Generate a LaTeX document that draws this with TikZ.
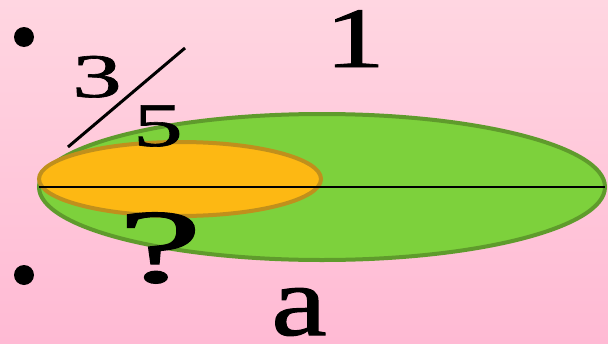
\documentclass[tikz,border=0pt]{standalone}
\usepackage{fontspec}
\setmainfont{Liberation Serif}
\newfontfamily\heavyserif[FakeBold=1]{Liberation Serif}
\usepackage{xcolor}
\usepackage{tikz}
\usetikzlibrary{shapes.geometric}
\definecolor{pinktop}{HTML}{FFD6E1}
\definecolor{pinkbottom}{HTML}{FFBAD4}
\definecolor{leafgreen}{HTML}{7DD13C}
\definecolor{leafedge}{HTML}{5F9B2C}
\definecolor{sunorange}{HTML}{FDB813}
\definecolor{sunedge}{HTML}{C0901C}

\begin{document}
\begin{tikzpicture}[
  x=1pt,y=-1pt,
  every node/.style={inner sep=0pt,outer sep=0pt},
  bignum/.style={anchor=base,text=black},
  bigoval/.style={ellipse,draw=leafedge,fill=leafgreen,line width=4pt},
  smalloval/.style={ellipse,draw=sunedge,fill=sunorange,line width=4pt},
  dot/.style={circle,fill=black,minimum size=20pt}
]
\useasboundingbox (0,0) rectangle (608,343);
\shade[top color=pinktop,bottom color=pinkbottom] (0,0) rectangle (608,343);

% bullets
\node[dot] (dotA) at (24,37) {};
\node[dot] (dotB) at (24,275) {};

% ovals
\node[bigoval,minimum width=566pt,minimum height=146pt] (whole) at (322,187) {};
\node[smalloval,minimum width=282pt,minimum height=74pt] (part) at (180,179) {};
\draw[line width=1.5pt] (whole.west) -- (whole.east);

% labels
\node[bignum,font=\heavyserif\fontsize{86}{86}\selectfont] (one) at (355,67) {\scalebox{1.4}[1]{1}};
\node[bignum,font=\heavyserif\fontsize{62}{62}\selectfont] (three) at (97,97) {\scalebox{1.6}[1]{3}};
\node[bignum,font=\heavyserif\fontsize{62}{62}\selectfont] (five) at (158,146) {\scalebox{1.6}[1]{5}};
\coordinate (slashlo) at (68,147);
\coordinate (slashhi) at (185,48);
\draw[line width=3pt] (slashlo) -- (slashhi);
\node[bignum,font=\heavyserif\fontsize{105}{105}\selectfont] (ask) at (160,282) {\scalebox{1.8}[1]{?}};
\node[bignum,font=\heavyserif\fontsize{100}{100}\selectfont] (avar) at (299,335) {\scalebox{1.25}[1]{a}};
\end{tikzpicture}
\end{document}
